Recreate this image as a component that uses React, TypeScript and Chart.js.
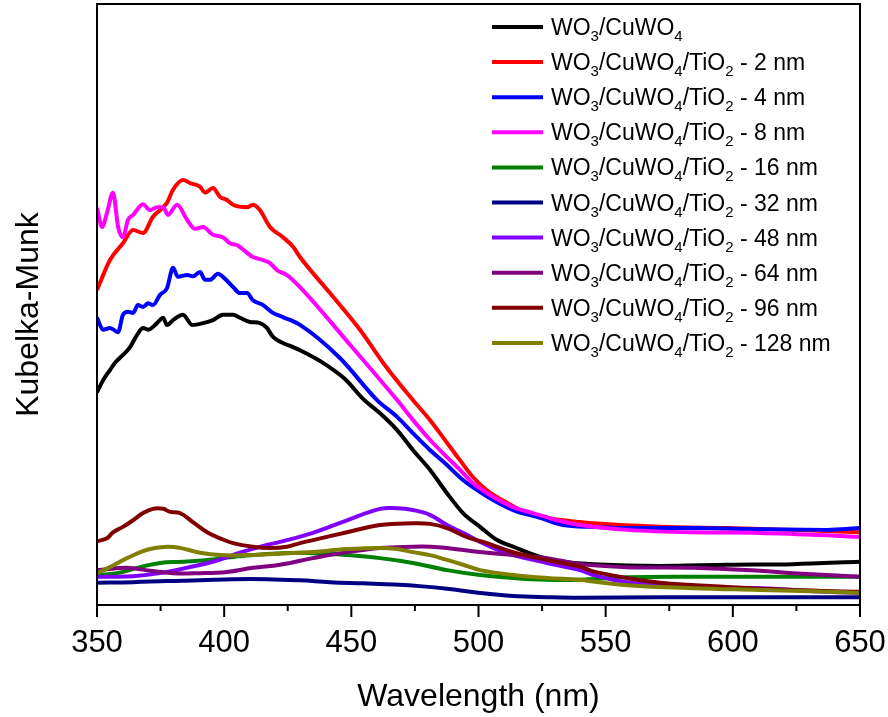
import { useEffect, useRef } from "react";
import { Chart, registerables } from "chart.js";

Chart.register(...registerables);

const FONT = '"Liberation Sans", Arial, Helvetica, sans-serif';

// Axis ticks (nm)
const wavelengthTicks = [350, 400, 450, 500, 550, 600, 650];
const minorWavelengthTicks = [375, 425, 475, 525, 575, 625];
const xTitle = "Wavelength (nm)";
const yTitle = "Kubelka-Munk";

// Legend labels: "_d" marks a subscript digit
const seriesLabels = [
  "WO_3/CuWO_4",
  "WO_3/CuWO_4/TiO_2 - 2 nm",
  "WO_3/CuWO_4/TiO_2 - 4 nm",
  "WO_3/CuWO_4/TiO_2 - 8 nm",
  "WO_3/CuWO_4/TiO_2 - 16 nm",
  "WO_3/CuWO_4/TiO_2 - 32 nm",
  "WO_3/CuWO_4/TiO_2 - 48 nm",
  "WO_3/CuWO_4/TiO_2 - 64 nm",
  "WO_3/CuWO_4/TiO_2 - 96 nm",
  "WO_3/CuWO_4/TiO_2 - 128 nm",
];

const seriesColors = [
  "#000000",
  "#ff0000",
  "#0000ff",
  "#ff00ff",
  "#008000",
  "#000080",
  "#8000ff",
  "#800080",
  "#800000",
  "#808000",
];

// Kubelka-Munk spectra, [wavelength nm, F(R) a.u.]
const bare: [number, number][] = [
  [350, 35.4], [352.4, 37.4], [355.1, 39.1], [357.1, 40.3], [360.2, 41.6],
  [363.0, 42.9], [365.7, 44.9], [368.1, 46.1], [370.1, 45.8], [373.6, 46.9],
  [376.0, 47.8], [377.5, 46.6], [379.9, 47.4], [383.8, 48.3], [387.4, 46.6],
  [391.7, 46.9], [395.6, 47.4], [399.5, 48.3], [403.5, 48.3], [406.2, 47.8],
  [410.2, 47.1], [414.1, 46.9], [416.8, 46.1], [419.2, 44.6], [423.1, 43.6],
  [427.1, 42.9], [429.8, 42.4], [437.7, 40.6], [447.5, 37.6], [454.6, 34.3],
  [461.3, 31.9], [468.0, 29.1], [474.2, 25.8], [480.9, 22.5], [487.6, 18.6],
  [493.9, 15.3], [500.6, 13.0], [507.3, 10.8], [513.6, 9.7], [524.2, 8.0],
  [533.2, 7.2], [545.0, 6.8], [571.4, 6.5], [597.7, 6.7], [623.7, 6.8], [650, 7.2],
];

const tio2_2nm: [number, number][] = [
  [350, 52.4], [355.1, 57.4], [360.2, 60.2], [364.2, 62.4], [368.1, 61.9],
  [372.0, 64.6], [377.5, 66.9], [379.9, 69.1], [383.8, 70.7], [386.6, 70.2],
  [390.5, 69.6], [392.5, 68.6], [395.6, 69.4], [398.4, 67.9], [401.1, 67.4],
  [403.5, 66.6], [409.0, 66.2], [411.3, 66.6], [414.1, 65.7], [418.0, 62.9],
  [423.1, 61.2], [427.1, 59.6], [429.8, 57.9], [441.6, 51.9], [453.4, 45.8],
  [463.2, 39.9], [474.2, 34.1], [480.9, 30.8], [487.6, 27.0], [492.7, 24.1],
  [497.8, 21.3], [503.3, 19.1], [511.2, 17.0], [519.1, 15.3], [526.9, 14.5],
  [539.9, 13.8], [545.0, 13.6], [571.4, 13.0], [597.7, 12.8], [623.7, 12.5], [650, 12.1],
];

const tio2_4nm: [number, number][] = [
  [350, 47.8], [352.4, 45.8], [355.1, 46.1], [358.3, 45.4], [360.2, 48.3],
  [362.2, 48.8], [364.2, 48.6], [366.1, 49.9], [368.1, 49.6], [370.1, 50.2],
  [372.0, 49.9], [374.8, 51.6], [377.5, 52.7], [379.9, 56.1], [381.8, 54.6],
  [385.4, 54.9], [387.7, 54.7], [390.5, 55.4], [392.5, 54.1], [394.4, 54.1],
  [397.6, 55.1], [399.5, 54.6], [403.5, 52.9], [406.2, 51.9], [409.0, 51.9],
  [411.3, 50.7], [415.3, 49.9], [419.2, 48.6], [423.1, 47.9], [429.8, 46.6],
  [445.5, 41.1], [460.1, 34.1], [468.0, 31.3], [474.2, 28.6], [480.9, 25.8],
  [487.6, 23.3], [493.9, 20.8], [500.6, 18.8], [507.3, 17.1], [513.6, 15.8],
  [524.2, 14.5], [533.2, 13.3], [545.0, 13.0], [558.4, 12.8], [584.3, 12.8],
  [610.7, 12.6], [637.0, 12.5], [650, 12.8],
];

const tio2_8nm: [number, number][] = [
  [350, 66.1], [352.0, 62.9], [353.9, 65.2], [356.3, 68.6], [358.3, 62.9],
  [360.2, 61.2], [362.2, 64.1], [364.2, 64.9], [368.1, 66.7], [370.8, 65.7],
  [373.6, 66.2], [376.0, 66.2], [377.9, 64.9], [381.5, 66.6], [385.4, 64.1],
  [388.5, 62.6], [391.7, 62.9], [395.6, 61.6], [399.5, 61.2], [402.3, 60.2],
  [405.0, 59.9], [409.0, 58.6], [411.3, 57.9], [415.3, 57.4], [418.0, 56.9],
  [420.8, 55.7], [424.7, 54.9], [429.8, 52.9], [449.5, 43.3], [468.0, 34.1],
  [474.2, 30.8], [480.9, 27.5], [487.6, 24.6], [492.7, 22.5], [497.8, 20.3],
  [505.7, 18.0], [513.6, 16.3], [521.4, 15.3], [530.9, 14.1], [539.9, 13.3],
  [558.4, 12.5], [584.3, 12.1], [610.7, 12.0], [637.0, 11.6], [650, 11.3],
];

const tio2_16nm: [number, number][] = [
  [350, 5.0], [357.9, 5.3], [366.9, 6.3], [374.8, 7.0], [383.8, 7.2],
  [393.3, 7.5], [403.5, 8.0], [416.8, 8.5], [429.8, 8.7], [434.9, 8.6],
  [448.3, 8.3], [461.3, 7.8], [474.2, 7.0], [487.6, 5.8], [500.6, 5.0],
  [513.6, 4.5], [526.9, 4.2], [539.9, 4.2], [558.4, 4.6], [584.3, 4.7],
  [610.7, 4.7], [650, 4.7],
];

const tio2_32nm: [number, number][] = [
  [350, 3.7], [364.2, 3.8], [377.5, 4.0], [390.5, 4.1], [403.5, 4.3],
  [416.8, 4.3], [429.8, 4.1], [441.6, 3.8], [454.6, 3.6], [467.0, 3.4],
  [478.0, 3.1], [487.6, 2.7], [500.6, 2.0], [513.6, 1.5], [526.9, 1.3],
  [539.9, 1.2], [571.4, 1.3], [610.7, 1.3], [650, 1.3],
];

const tio2_48nm: [number, number][] = [
  [350, 4.7], [355.1, 4.7], [364.2, 4.8], [374.8, 5.3], [385.4, 6.2],
  [395.6, 7.2], [406.2, 8.7], [416.8, 10.0], [422.0, 10.5], [434.9, 12.0],
  [448.3, 14.1], [461.3, 16.0], [468.0, 16.1], [474.2, 15.8], [480.9, 15.0],
  [487.6, 13.3], [493.9, 12.0], [500.6, 10.5], [507.3, 9.2], [513.6, 8.3],
  [526.9, 7.0], [539.9, 5.8], [545.0, 5.0], [558.4, 3.8], [584.3, 3.0],
  [610.7, 2.8], [637.0, 2.2], [650, 2.0],
];

const tio2_64nm: [number, number][] = [
  [350, 5.8], [355.1, 6.0], [361.8, 6.2], [370.8, 5.7], [379.9, 5.3],
  [390.5, 5.3], [401.1, 5.5], [411.3, 6.2], [422.0, 6.7], [434.9, 7.8],
  [448.3, 8.8], [461.3, 9.5], [474.2, 9.7], [480.9, 9.7], [487.6, 9.5],
  [500.6, 8.8], [513.6, 8.3], [526.9, 7.8], [539.9, 6.8], [558.4, 6.3],
  [584.3, 6.2], [610.7, 5.7], [623.7, 5.3], [650, 4.7],
];

const tio2_96nm: [number, number][] = [
  [350, 10.6], [353.9, 11.1], [356.3, 12.1], [360.2, 13.0], [364.2, 14.1],
  [368.1, 15.3], [372.0, 16.0], [376.0, 16.0], [378.7, 15.5], [382.6, 15.3],
  [387.7, 13.8], [393.3, 12.1], [398.4, 11.1], [403.5, 10.3], [411.3, 9.7],
  [418.0, 9.5], [424.7, 9.7], [429.8, 10.3], [434.9, 10.8], [448.3, 12.1],
  [461.3, 13.3], [474.2, 13.6], [480.9, 13.5], [487.6, 12.8], [495.5, 11.3],
  [503.3, 10.3], [513.6, 8.8], [526.9, 7.5], [539.9, 6.4], [545.0, 5.6],
  [558.4, 4.5], [571.4, 3.7], [597.7, 3.0], [623.7, 2.5], [650, 2.2],
];

const tio2_128nm: [number, number][] = [
  [350, 5.3], [355.1, 6.3], [361.8, 7.8], [369.7, 9.2], [377.5, 9.7],
  [382.6, 9.5], [390.5, 8.7], [398.4, 8.3], [409.0, 8.3], [419.2, 8.5],
  [429.8, 8.7], [434.9, 8.8], [448.3, 9.3], [461.3, 9.5], [468.0, 9.3],
  [474.2, 8.8], [480.9, 8.3], [487.6, 7.5], [493.9, 6.7], [500.6, 5.8],
  [513.6, 5.0], [526.9, 4.5], [539.9, 4.2], [545.0, 3.9], [558.4, 3.3],
  [584.3, 2.8], [610.7, 2.5], [637.0, 2.2], [650, 2.0],
];

const spectra = [
  bare, tio2_2nm, tio2_4nm, tio2_8nm, tio2_16nm,
  tio2_32nm, tio2_48nm, tio2_64nm, tio2_96nm, tio2_128nm,
];

// the four thin-coating spectra keep their measurement noise; the rest are smooth
const noisySpectra = [true, true, true, true, false, false, false, false, false, false];

function drawRichText(ctx: CanvasRenderingContext2D, text: string, x: number, baseline: number) {
  let cx = x;
  for (const part of text.split(/(_\d)/)) {
    if (!part) continue;
    if (part.startsWith("_")) {
      const s = part.slice(1);
      ctx.font = `15px ${FONT}`;
      ctx.fillText(s, cx, baseline + 6);
      cx += ctx.measureText(s).width;
    } else {
      ctx.font = `23px ${FONT}`;
      ctx.fillText(part, cx, baseline);
      cx += ctx.measureText(part).width;
    }
  }
}

const framePlugin = {
  id: "frameAndLabels",
  afterDraw(chart: any) {
    const { ctx, chartArea: a, scales } = chart;
    const xs = scales.x;
    ctx.save();
    ctx.strokeStyle = "#000";
    ctx.fillStyle = "#000";
    ctx.lineWidth = 2;
    ctx.strokeRect(a.left, a.top, a.right - a.left, a.bottom - a.top);

    ctx.beginPath();
    for (const v of wavelengthTicks) {
      const px = xs.getPixelForValue(v);
      ctx.moveTo(px, a.bottom);
      ctx.lineTo(px, a.bottom + 12);
    }
    for (const v of minorWavelengthTicks) {
      const px = xs.getPixelForValue(v);
      ctx.moveTo(px, a.bottom);
      ctx.lineTo(px, a.bottom + 6);
    }
    ctx.stroke();

    ctx.textAlign = "center";
    ctx.textBaseline = "alphabetic";
    ctx.font = `31px ${FONT}`;
    for (const v of wavelengthTicks) {
      ctx.fillText(String(v), xs.getPixelForValue(v), a.bottom + 47);
    }
    ctx.font = `32px ${FONT}`;
    ctx.fillText(xTitle, (a.left + a.right) / 2, a.bottom + 101);

    ctx.save();
    ctx.translate(38, (a.top + a.bottom) / 2 + 10);
    ctx.rotate(-Math.PI / 2);
    ctx.fillText(yTitle, 0, 0);
    ctx.restore();

    // legend
    ctx.textAlign = "left";
    seriesLabels.forEach((label, i) => {
      const y = 27 + i * 35.1;
      ctx.beginPath();
      ctx.strokeStyle = seriesColors[i];
      ctx.lineWidth = 4;
      ctx.moveTo(492, y);
      ctx.lineTo(543, y);
      ctx.stroke();
      ctx.fillStyle = "#000";
      drawRichText(ctx, label, 551, y + 8);
    });
    ctx.restore();
  },
};

export default function App() {
  const canvasRef = useRef<HTMLCanvasElement | null>(null);

  useEffect(() => {
    const canvas = canvasRef.current;
    if (!canvas) return;
    const chart = new Chart(canvas, {
      type: "line",
      data: {
        datasets: spectra.map((pts, i) => ({
          label: seriesLabels[i].replace(/_/g, ""),
          data: pts.map(([x, y]) => ({ x, y })),
          borderColor: seriesColors[i],
          backgroundColor: seriesColors[i],
          borderWidth: 4,
          pointRadius: 0,
          fill: false,
          cubicInterpolationMode: noisySpectra[i] ? ("monotone" as const) : ("default" as const),
          tension: noisySpectra[i] ? 0 : 0.4,
          order: 10 - i,
        })),
      },
      options: {
        responsive: false,
        animation: false,
        events: [],
        layout: { padding: { left: 97, top: 4, right: 28, bottom: 112 } },
        scales: {
          x: { type: "linear", min: 350, max: 650, display: false },
          y: { type: "linear", min: 0, max: 100, display: false },
        },
        plugins: {
          legend: { display: false },
          tooltip: { enabled: false },
        },
      },
      plugins: [framePlugin],
    });
    return () => chart.destroy();
  }, []);

  return (
    <div style={{ position: "fixed", left: 0, top: 0, width: 888, height: 717, background: "#fff" }}>
      <canvas ref={canvasRef} width={888} height={717} style={{ display: "block" }} />
    </div>
  );
}
